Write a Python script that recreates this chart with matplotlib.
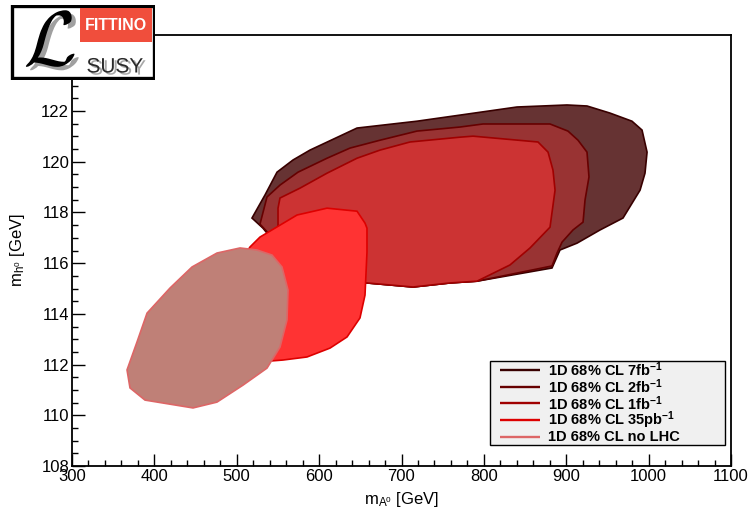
import matplotlib.pyplot as plt
import matplotlib.patheffects as pe
from matplotlib.patches import Rectangle
from matplotlib.ticker import MultipleLocator

plt.rcParams['font.family'] = ['Liberation Sans', 'DejaVu Sans']
plt.rcParams['mathtext.fontset'] = 'custom'
plt.rcParams['mathtext.rm'] = 'Liberation Sans'
plt.rcParams['mathtext.it'] = 'Liberation Sans:italic'
plt.rcParams['mathtext.bf'] = 'Liberation Sans:bold'
plt.rcParams['mathtext.default'] = 'regular'

# 68% CL regions in the (m_A0, m_h0) plane, one closed outline per data set
mA_7fb = [518.5, 534.3, 548.9, 568.3, 588.9, 646.0, 718.8, 771.0, 840.2, 900.9,
          925.2, 953.1, 979.8, 992.0, 998.1, 995.6, 989.6, 968.9, 941.0, 913.1,
          892.4, 882.7, 791.7, 758.9, 714.0, 658.1, 576.8, 531.9]
mh_7fb = [117.78, 118.69, 119.59, 120.07, 120.46, 121.33, 121.60, 121.84, 122.16, 122.24,
          122.20, 121.92, 121.60, 121.25, 120.38, 119.55, 118.88, 117.78, 117.31, 116.79,
          116.52, 115.81, 115.29, 115.22, 115.06, 115.22, 115.57, 117.38]

mA_2fb = [528.2, 536.7, 552.5, 574.4, 609.6, 637.5, 673.9, 718.8, 771.0, 798.9,
          880.3, 902.1, 914.3, 925.2, 927.6, 922.8, 920.4, 908.2, 894.9, 888.8,
          882.7, 791.7, 758.9, 714.0, 658.1, 576.8, 540.4]
mh_2fb = [117.54, 118.61, 119.08, 119.59, 120.14, 120.54, 120.85, 121.21, 121.37, 121.49,
          121.49, 121.21, 120.85, 120.38, 119.40, 118.49, 117.62, 117.31, 116.83, 116.40,
          115.89, 115.29, 115.22, 115.06, 115.22, 115.65, 117.11]

mA_1fb = [550.1, 552.5, 576.8, 609.6, 646.0, 673.9, 710.3, 771.0, 786.8, 865.7,
          877.9, 883.9, 886.4, 880.3, 856.0, 831.7, 791.7, 758.9, 714.0, 658.1,
          576.8, 550.1]
mh_1fb = [118.17, 118.57, 118.96, 119.55, 120.14, 120.46, 120.78, 120.97, 121.01, 120.78,
          120.38, 119.67, 118.88, 117.42, 116.60, 115.93, 115.29, 115.22, 115.06, 115.22,
          115.73, 117.31]

mA_35pb = [516.1, 528.2, 552.5, 573.2, 609.6, 646.0, 655.7, 658.1, 658.1, 655.7,
           649.6, 633.9, 613.2, 585.3, 556.2, 540.4, 522.2, 504.0, 497.9]
mh_35pb = [116.64, 117.03, 117.50, 117.90, 118.17, 118.05, 117.58, 117.38, 116.44, 114.74,
           113.84, 113.09, 112.65, 112.30, 112.18, 112.14, 112.10, 113.36, 115.73]

mA_nolhc = [366.8, 370.4, 388.6, 446.9, 476.0, 507.6, 536.7, 552.5, 561.0, 562.2,
            554.9, 542.8, 524.6, 504.0, 476.0, 445.7, 419.0, 391.1, 378.9]
mh_nolhc = [111.79, 111.08, 110.60, 110.29, 110.52, 111.19, 111.86, 112.69, 113.76, 114.94,
            115.85, 116.32, 116.52, 116.60, 116.40, 115.85, 115.02, 114.03, 112.89]

labels = ['1D 68% CL 7fb$^{-1}$', '1D 68% CL 2fb$^{-1}$', '1D 68% CL 1fb$^{-1}$',
          '1D 68% CL 35pb$^{-1}$', '1D 68% CL no LHC']
fills = ['#663333', '#993333', '#cc3333', '#ff3333', '#bf8077']
edges = ['#380000', '#660000', '#a00000', '#dd0000', '#dd6666']

fig = plt.figure(figsize=(7.51, 5.11), dpi=100)
ax = fig.add_axes([72 / 751, 45 / 511, 659 / 751, 431 / 511])

regions = [(mA_7fb, mh_7fb), (mA_2fb, mh_2fb), (mA_1fb, mh_1fb),
           (mA_35pb, mh_35pb), (mA_nolhc, mh_nolhc)]
for (xs, ys), fc, ec in zip(regions, fills, edges):
    ax.fill(xs, ys, facecolor=fc, edgecolor=ec, linewidth=1.2)

ax.set_xlim(300, 1100)
ax.set_ylim(108, 125)
ax.xaxis.set_major_locator(MultipleLocator(100))
ax.xaxis.set_minor_locator(MultipleLocator(20))
ax.yaxis.set_major_locator(MultipleLocator(2))
ax.yaxis.set_minor_locator(MultipleLocator(0.5))
ax.tick_params(which='both', direction='in', top=False, right=False,
               labelsize=12, width=1, pad=2)
ax.tick_params(which='major', length=9)
ax.tick_params(which='minor', length=4.5)
for sp in ax.spines.values():
    sp.set_linewidth(1.3)

ax.set_xlabel(r'm$_{A^{0}}$ [GeV]', fontsize=12)
ax.set_ylabel(r'm$_{h^{0}}$ [GeV]', fontsize=12)
ax.xaxis.set_label_coords(0.5, -0.055)
ax.yaxis.set_label_coords(-0.068, 0.5)

# ROOT-style legend box: grey fill, short line samples, bold labels
ax.add_patch(Rectangle((0.634, 0.049), 0.357, 0.195, transform=ax.transAxes,
                       facecolor='#f0f0f0', edgecolor='black', linewidth=1.0, zorder=5))
row_top, row_step = 0.2227, 0.0388
for i, (lab, ec) in enumerate(zip(labels, edges)):
    yy = row_top - i * row_step
    ax.plot([0.6495, 0.7102], [yy, yy], color=ec, lw=1.7, transform=ax.transAxes,
            zorder=6, solid_capstyle='butt')
    ax.text(0.7223, yy, lab, transform=ax.transAxes, ha='left', va='center',
            fontsize=10.5, weight='bold', zorder=6)

# logo box in the top left corner, drawn in pixel-like units
logo = fig.add_axes([10 / 751, 1 - 80 / 511, 145 / 751, 75 / 511])
logo.set_xlim(0, 145)
logo.set_ylim(75, 0)
logo.axis('off')
logo.add_patch(Rectangle((1.5, 1.5), 142, 72, facecolor='white', edgecolor='black', linewidth=2.4))
logo.add_patch(Rectangle((70, 3.5), 72, 34, facecolor='#f04e3c', edgecolor='none'))
logo.text(106, 21, 'FITTINO', ha='center', va='center', color='white', fontsize=11.5,
          weight='bold')
shadow = [pe.withSimplePatchShadow(offset=(2, -1.5), shadow_rgbFace='#a8a8a8', alpha=1)]
logo.text(105, 62, 'SUSY', ha='center', va='center', color='#2a2a2a', fontsize=15,
          path_effects=shadow)
logo.text(40, 40, r'$\mathcal{L}$', ha='center', va='center', color='black',
          fontsize=56, math_fontfamily='cm',
          path_effects=[pe.withSimplePatchShadow(offset=(3, -2.5), shadow_rgbFace='#a0a0a0', alpha=1)])

fig.savefig('out.png', dpi=100)
